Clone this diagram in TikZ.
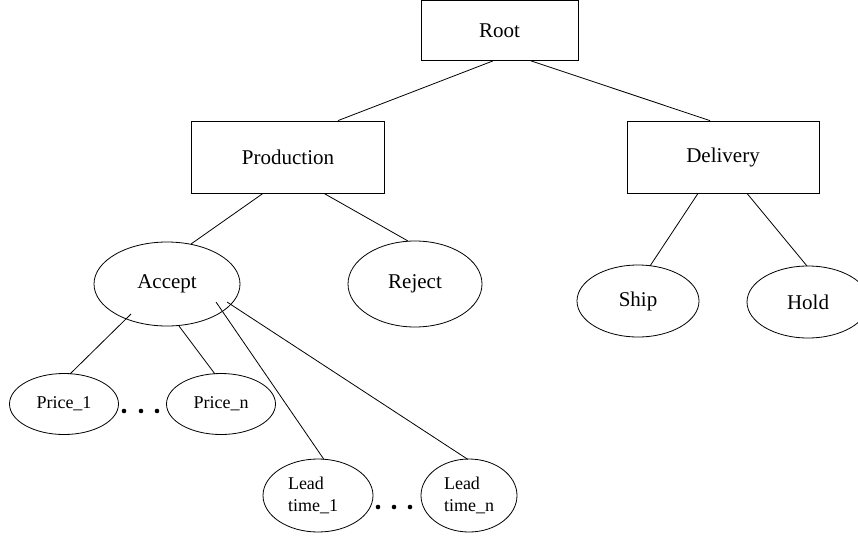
\documentclass[tikz,border=0pt]{standalone}
\usepackage{fontspec}
\setmainfont{Liberation Serif}
\usetikzlibrary{shapes.geometric,calc}
\tikzset{
  box/.style={draw, line width=0.8pt, inner sep=0pt, font=\fontsize{21}{25}\selectfont},
  oval/.style={draw, ellipse, line width=0.8pt, inner sep=0pt, font=\fontsize{21}{25}\selectfont},
  smalloval/.style={oval, font=\fontsize{18}{22}\selectfont, align=left},
  edge/.style={line width=0.8pt},
  dot/.style={fill=black, circle, inner sep=0pt, minimum size=4.6pt}
}
\begin{document}
\begin{tikzpicture}[x=1pt, y=-1pt]
\clip (0,0) rectangle (858,535);

% tree nodes
\node[box, minimum width=157pt, minimum height=60pt] (root) at (499.5,30.5) {Root};
\node[box, minimum width=193pt, minimum height=72pt] (prod) at (288,157) {Production};
\node[box, minimum width=192pt, minimum height=72pt] (deliv) at (723,157) {Delivery};

\node[oval, minimum width=146pt, minimum height=84pt] (acc) at (167,284) {Accept};
\node[oval, minimum width=134pt, minimum height=86pt] (rej) at (415,284) {Reject};
\node[oval, minimum width=122pt, minimum height=72pt] (ship) at (638,301) {Ship};
\node[oval, minimum width=122pt, minimum height=72pt] (hold) at (808,302) {Hold};

\node[smalloval, minimum width=109pt, minimum height=61pt] (p1) at (64,404) {Price\_1};
\node[smalloval, minimum width=109pt, minimum height=61pt] (pn) at (221,404) {Price\_n};
\node[smalloval, minimum width=110pt, minimum height=73pt,
      label={[font=\fontsize{18}{22}\selectfont, align=left, xshift=-5pt]center:Lead\\time\_1}] (l1) at (318,495.5) {};
\node[smalloval, minimum width=96pt, minimum height=73pt] (ln) at (469,495.5) {Lead\\time\_n};

% ellipsis dots
\foreach \x [count=\i] in {124,141,157} \node[dot] (pd\i) at (\x,411) {};
\foreach \x [count=\i] in {378,394,410} \node[dot] (ld\i) at (\x,507) {};

% connectors
\draw[edge] ($(root.south)+(-6.5,0)$) -- ($(prod.north)+(50,0)$);
\draw[edge] ($(root.south)+(31.5,0)$) -- ($(deliv.north)+(-13,0)$);
\draw[edge] ($(prod.south)+(-25,0)$) -- ($(acc.center)+(24,-40)$);
\draw[edge] ($(prod.south)+(36,0)$) -- ($(rej.center)+(-7,-43)$);
\draw[edge] ($(deliv.south)+(-25,0)$) -- ($(ship.center)+(12,-35)$);
\draw[edge] ($(deliv.south)+(24,0)$) -- ($(hold.center)+(-1,-36)$);
\draw[edge] ($(acc.center)+(-36,30)$) -- ($(p1.center)+(6,-30)$);
\draw[edge] ($(acc.center)+(12,42)$) -- ($(pn.center)+(-6,-30)$);
\draw[edge] ($(acc.center)+(49,18)$) -- ($(l1.center)+(6,-36)$);
\draw[edge] ($(acc.center)+(60,18)$) -- ($(ln.center)+(-1,-36)$);
\end{tikzpicture}
\end{document}
